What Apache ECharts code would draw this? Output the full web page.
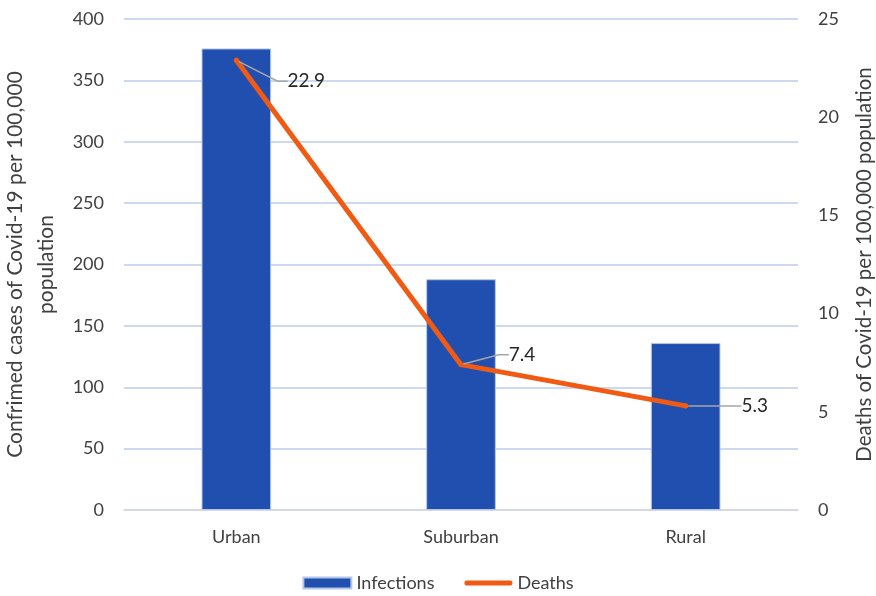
<!DOCTYPE html>
<html><head><meta charset="utf-8">
<script src="https://cdn.jsdelivr.net/npm/echarts@6/dist/echarts.min.js"></script>
<style>html,body{margin:0;padding:0;background:#fff}#c{width:876px;height:596px}</style>
</head><body><div id="c"></div>
<script>
const categories = ['Urban', 'Suburban', 'Rural'];
const infections = [376, 188, 136];
const deaths = [22.9, 7.4, 5.3];
const leftTicks = [0, 400, 50];
const rightTicks = [0, 25, 5];

const FONT = 'Lato';
const chart = echarts.init(document.getElementById('c'));
const labelOffsets = [[66, 21], [57, -10], [65, 0]];
chart.setOption({
  animation: false,
  textStyle: { fontFamily: FONT },
  grid: { left: 124, right: 78, top: 19, bottom: 86, outerBoundsMode: 'none', containLabel: false },
  legend: {
    bottom: -1, left: 'center', itemGap: 30, itemWidth: 48, itemHeight: 11,
    textStyle: { fontSize: 18, color: '#404040', fontFamily: FONT },
    data: [
      { name: 'Infections', icon: 'rect' },
      { name: 'Deaths', icon: 'path://M2,0 L46,0 C48.5,0 48.5,5 46,5 L2,5 C-0.5,5 -0.5,0 2,0 Z' }
    ]
  },
  xAxis: {
    type: 'category', data: categories,
    axisLine: { lineStyle: { color: '#d9d9d9', width: 1.5 } },
    axisTick: { show: false },
    axisLabel: { fontSize: 18, color: '#404040', margin: 18 }
  },
  yAxis: [{
    type: 'value', min: leftTicks[0], max: leftTicks[1], interval: leftTicks[2],
    name: 'Confrimed cases of Covid-19 per 100,000\npopulation',
    nameLocation: 'middle', nameRotate: 90, nameGap: 50,
    nameTextStyle: { fontSize: 21, color: '#404040', lineHeight: 31 },
    axisLine: { show: false }, axisTick: { show: false },
    axisLabel: { fontSize: 18, color: '#404040', margin: 20 },
    splitLine: { lineStyle: { color: '#bccdec', width: 1.5 } }
  }, {
    type: 'value', min: rightTicks[0], max: rightTicks[1], interval: rightTicks[2],
    name: 'Deaths of Covid-19 per 100,000 population',
    nameLocation: 'middle', nameRotate: 90, nameGap: 56,
    nameTextStyle: { fontSize: 20.5, color: '#404040' },
    axisLine: { show: false }, axisTick: { show: false },
    axisLabel: { fontSize: 18, color: '#404040', margin: 20 },
    splitLine: { show: false }
  }],
  series: [{
    name: 'Infections', type: 'bar', data: infections, barWidth: '31%',
    itemStyle: { color: '#214fb0', borderColor: '#b4c7e7', borderWidth: 1 }
  }, {
    name: 'Deaths', type: 'line', yAxisIndex: 1, data: deaths,
    symbol: 'circle', symbolSize: 5, z: 5,
    lineStyle: { color: '#f05a12', width: 5, cap: 'round', join: 'round' },
    itemStyle: { color: '#f05a12' },
    label: {
      show: true, position: 'inside', fontSize: 19, color: '#262626',
      padding: [0, 0, 0, 8],
      formatter: p => p.value.toFixed(1)
    },
    labelLine: { show: true, length2: 10, lineStyle: { color: '#a6a6a6', width: 1.5 } },
    labelLayout: p => ({ dx: labelOffsets[p.dataIndex][0], dy: labelOffsets[p.dataIndex][1] })
  }]
});
</script></body></html>
